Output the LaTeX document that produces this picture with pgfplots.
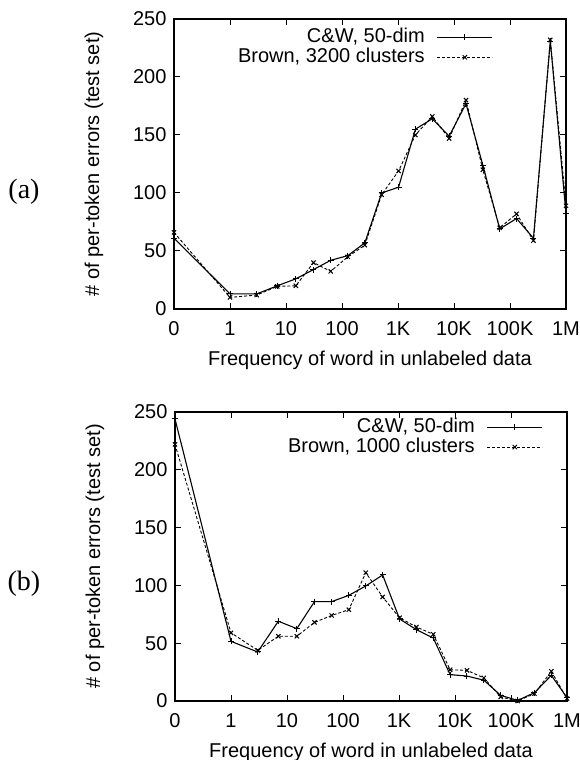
\documentclass[border=0pt]{standalone}
\usepackage{fontspec}
\setmainfont{Liberation Sans}
\newfontfamily\serif{Liberation Serif}
\usepackage{pgfplots}
\usepackage{pgfplotstable}
\pgfplotsset{compat=1.18}

% u = 0 for frequency 0, otherwise 1 + log10(freq); bins at 2^k - 1
\pgfplotstableread{
u      cw    brown
0      61    66
1      13    10
1.477  13    12
1.845  20    19.5
2.176  26    20
2.491  34    40
2.799  42    32.5
3.104  46    45
3.407  57    55
3.708  100   98.5
4.010  105   119
4.311  155   150
4.612  164   166
4.913  149   147
5.214  177   180
5.515  124   120
5.816  69    70
6.117  78    82
6.419  61    59
6.720  231   232
7.0    82    89
}\dataA

\pgfplotstableread{
u      cw    brown
0      244   222
1      51.6  59
1.477  42.4  43.8
1.845  69    56
2.176  62.6  56
2.491  86    68
2.799  86    74
3.104  91.4  79
3.407  99.5  111
3.708  109   90
4.010  71    72
4.311  61.7  64
4.612  54.5  57.7
4.913  22.8  27
5.214  21.6  26.5
5.515  18    20
5.816  4.9   3.5
6.117  0.5   0
6.419  7.2   6.3
6.720  22.2  25.7
7.0    2.9   2
}\dataB

\pgfplotsset{
  errplot/.style={
    width=392pt, height=290pt, scale only axis,
    xmin=0, xmax=7, ymin=0, ymax=250,
    xtick={0,...,7},
    xticklabels={0,1,10,100,1K,10K,100K,1M},
    ytick={0,50,...,250},
    tick align=inside,
    major tick length=6pt,
    tick style={black, line width=1pt},
    axis line style={line width=1.1pt},
    /pgf/number format/assume math mode=true,
    xticklabel style={yshift=-9pt},
    yticklabel style={xshift=-4pt},
    xlabel={Frequency of word in unlabeled data},
    ylabel={\# of per-token errors (test set)},
    xlabel style={at={(axis description cs:0.5,-0.176)}, anchor=center},
    ylabel style={at={(axis description cs:-0.204,0.5)}, anchor=center},
    legend cell align=right,
    legend plot pos=right,
    legend image code/.code={
      \draw[mark repeat=2,mark phase=2,##1] plot coordinates {(0pt,0pt) (27.5pt,0pt) (55pt,0pt)};
    },
    cw/.style={black, line width=1.1pt, mark=+, mark size=3pt, mark options={solid, line width=1pt}},
    br/.style={black, line width=0.9pt, dash pattern=on 3pt off 2pt, mark=x, mark size=3pt, mark options={solid, line width=1pt}},
  }
}

\begin{document}
\begin{tikzpicture}[font=\fontsize{20}{24}\selectfont]
\useasboundingbox (0,0) rectangle (580pt,760pt);

\begin{axis}[errplot, at={(174pt,451pt)}, anchor=south west,
  legend style={draw=none, fill=none, at={(axis description cs:0.814,0.972)}, anchor=north east,
    inner sep=0pt, column sep=12pt, row sep=0pt,
    nodes={inner xsep=0pt, inner ysep=0pt, text height=15pt, text depth=5pt}}]
  \addplot[cw] table[x=u, y=cw] {\dataA};
  \addlegendentry{C\&W, 50-dim}
  \addplot[br] table[x=u, y=brown] {\dataA};
  \addlegendentry{Brown, 3200 clusters}
\end{axis}

\begin{axis}[errplot, at={(175pt,59pt)}, anchor=south west, height=289pt,
  legend style={draw=none, fill=none, at={(axis description cs:0.939,0.983)}, anchor=north east,
    inner sep=0pt, column sep=12pt, row sep=0pt,
    nodes={inner xsep=0pt, inner ysep=0pt, text height=15pt, text depth=5pt}}]
  \addplot[cw] table[x=u, y=cw] {\dataB};
  \addlegendentry{C\&W, 50-dim}
  \addplot[br] table[x=u, y=brown] {\dataB};
  \addlegendentry{Brown, 1000 clusters}
\end{axis}

\node[font=\serif\fontsize{28}{32}\selectfont] at (24pt,568pt) {(a)};
\node[font=\serif\fontsize{28}{32}\selectfont] at (24pt,176pt) {(b)};
\end{tikzpicture}
\end{document}
